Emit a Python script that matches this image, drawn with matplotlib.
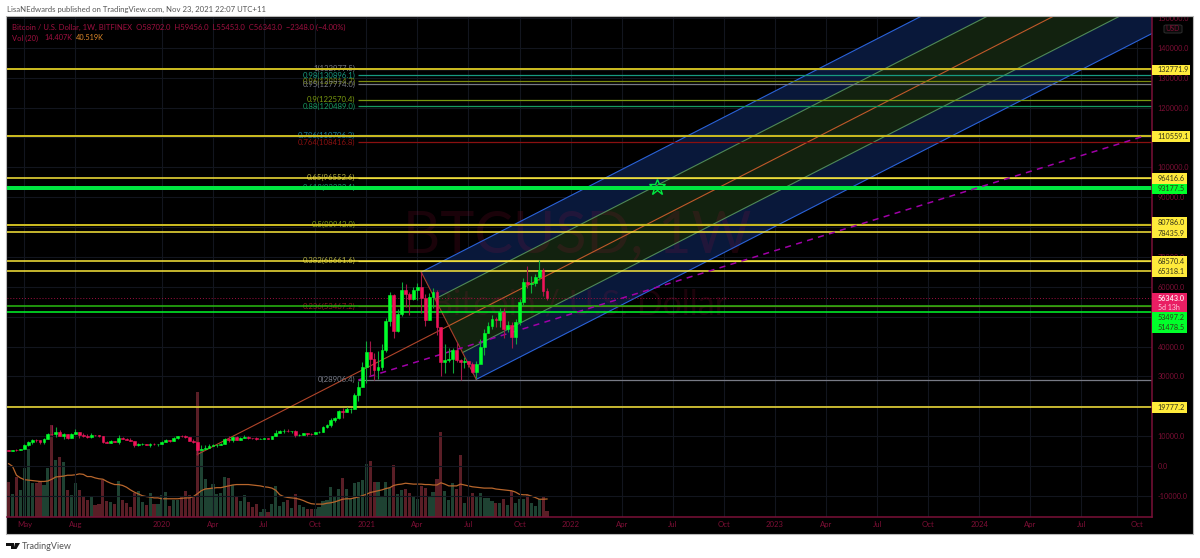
import matplotlib
matplotlib.use("Agg")
import matplotlib.pyplot as plt
import matplotlib.dates as mdates
from matplotlib.patches import Rectangle, FancyBboxPatch, Polygon
import numpy as np
import pandas as pd

W, H = 1200, 558
plt.rcParams['font.family'] = ['Lato', 'DejaVu Sans']

# ---------- data ----------
closes = [5070,5310,5280,5760,7000,8200,8750,8730,7950,8950,
          10850,10800,11400,10200,10750,9500,10800,11300,10350,10150,
          9600,10400,10300,10000,8100,7850,8300,8200,9500,9200,
          8800,8500,6900,7400,7500,7100,7500,7300,7350,8150,
          8700,8350,9350,10150,9900,9650,8530,8040,5200,5800,
          5900,6780,6900,7130,7530,8900,8720,9670,8720,9450,
          9670,9320,9300,9000,9070,9300,9200,9930,11100,11680,
          11850,11650,11700,10250,10320,10920,10770,10670,11370,11500,
          13030,13770,15480,15970,18400,18180,19150,19170,23860,26490,
          33000,38150,35800,32300,33100,38900,48600,57400,45200,51000,
          59000,57500,55800,58800,60000,56200,49000,56600,58200,46400,
          34700,35600,35800,39000,35600,34700,35300,34200,31500,34300,
          39900,44600,47000,49300,48800,51700,46000,47300,43200,48200,
          54900,61500,61000,61300,63200,65500,58702,56343]
opens = [5200] + closes[:-1]
highs = [5470,5350,5650,5800,7450,8350,8950,9090,8800,9400,
         11200,13800,13200,12100,11000,10700,11100,12300,11400,10950,
         10600,10950,10450,10300,10050,8500,8700,8450,10350,9800,
         9500,9250,8500,7850,7750,7450,7700,7700,7500,8250,
         9200,8800,9550,10200,10500,10350,9750,9200,8200,6950,
         6950,7200,7500,7300,7750,9500,9950,9900,10050,9600,
         10500,9950,9500,9750,9350,9500,9400,10200,12100,12050,
         12450,12400,11800,12050,10700,11200,10950,10950,11450,11700,
         13230,14100,15950,16450,18800,19400,19800,19400,24300,28400,
         34800,42000,41900,37800,38500,40900,49700,58300,57500,52500,
         61700,61000,58400,60000,61300,64900,57500,57900,59500,58900,
         46700,40800,39500,39400,41400,35700,36600,35000,34800,35000,
         42500,46000,48100,50500,49800,53000,52900,48500,48300,49200,
         56000,62900,67000,63700,64300,69000,66300,59456]
lows = [4950,5000,5150,5200,5700,6600,7450,8000,7450,7500,
        8900,10300,9700,9900,9100,9200,9300,10750,9450,9850,
        9350,9500,9900,9800,7700,7700,7750,7900,7300,8900,
        8700,8400,6500,6850,7150,7000,6500,7000,6850,7350,
        8000,8200,8300,9100,9650,9300,8400,7850,3850,5200,
        5700,5900,6700,6500,7000,7500,8200,8150,8600,8700,
        9300,9150,8900,8850,8900,8950,9050,9150,9900,10950,
        11100,11300,11100,9850,10200,10250,10150,10300,10550,11200,
        11400,12700,13200,14800,15800,16200,18000,17600,19000,21900,
        26500,27800,30300,28900,29200,32300,38000,47000,43000,44900,
        50300,53200,50400,55500,55500,51300,47000,48800,53000,43900,
        30000,31100,34800,31000,34900,28900,32700,33000,31000,29300,
        34400,37300,44600,46000,46500,46600,42800,44700,39600,40800,
        47100,53900,59600,58000,60200,62300,57000,55453]
volumes = [79,51,91,61,111,154,77,77,79,71,
           110,206,128,134,124,61,49,77,61,45,
           38,46,26,29,83,35,34,29,80,38,
           32,23,53,58,34,28,53,29,29,50,
           56,24,39,39,48,59,50,47,281,154,
           85,66,74,52,54,89,87,71,45,36,
           49,34,23,29,11,17,11,29,69,25,
           34,38,20,51,26,23,19,19,19,23,
           37,38,67,44,62,87,62,40,76,79,
           83,119,125,79,79,47,79,65,117,52,
           61,63,55,46,41,70,65,46,56,85,
           191,59,38,76,63,140,31,47,53,44,
           53,42,42,36,32,32,41,27,58,32,
           41,41,50,31,25,40,44,14.4]
vol_ma = [120,114,94,88,84,83,82,81,80,80,
          81,85,90,91,92,94,94,95,97,96,
          91,91,88,86,85,80,76,73,73,71,
          67,61,56,52,48,46,45,43,43,41,
          41,41,41,41,42,43,43,46,52,59,
          63,64,65,66,66,68,70,72,73,73,
          73,73,72,71,70,68,67,65,60,50,
          46,44,43,42,40,37,33,30,29,29,
          29,31,32,34,37,40,41,41,43,45,
          48,51,55,57,59,61,64,66,71,73,
          74,76,75,74,74,74,73,73,72,72,
          77,74,70,70,70,74,72,70,68,67,
          66,65,65,65,63,62,61,60,59,56,
          51,50,50,47,44,40,40,40.5]
first_week = '2019-04-08'

month_ticks = ['2019-05-06','2019-08-05','2020-01-06','2020-04-06','2020-07-06','2020-10-05',
               '2021-01-04','2021-04-05','2021-07-05','2021-10-04','2022-01-03','2022-04-04',
               '2022-07-04','2022-10-03','2023-01-02','2023-04-03','2023-07-03','2023-10-02',
               '2024-01-01','2024-04-01','2024-07-01','2024-10-07']
month_labels = ['May','Aug','2020','Apr','Jul','Oct','2021','Apr','Jul','Oct','2022','Apr',
                'Jul','Oct','2023','Apr','Jul','Oct','2024','Apr','Jul','Oct']
price_ticks = [150000,140000,130000,120000,110000,100000,90000,80000,70000,60000,
               50000,40000,30000,20000,10000,0,-10000]

fib_levels = [1,0.98,0.96,0.95,0.9,0.88,0.786,0.764,0.65,0.618,0.5,0.382,0.236,0]
fib_prices = [132977.5,130896.1,128814.7,127774.0,122570.4,120489.0,110706.3,108416.8,
              96552.6,93222.1,80942.0,68661.6,53467.2,28906.4]
fib_colors = ['#787b86','#179a80','#7a8a10','#787b86','#7a9a10','#179a60','#1a7fa0','#8a1010',
              '#b5b040','#179a70','#7a9a10','#b5b040','#8a1a1a','#787b86']
hline_prices = [132771.9,110559.1,96416.6,93177.5,80786.0,78435.9,68570.4,65318.1,53497.2,51478.5,19777.2]
hline_colors = ['#c8b820','#c8b820','#ffeb3b','#00e640','#c8b820','#ffeb3b','#ffeb3b','#ffeb3b','#28c010','#00ff2a','#ffeb3b']
hline_widths = [2,2,1.5,4,2,1.5,1.5,1.5,1.5,1.5,1.5]

fork_dates = ['2020-03-09','2021-04-12','2021-07-19']
fork_prices = [3850,64900,29000]
trend_dates = ['2020-12-21','2024-10-21']
trend_prices = [28800,110480]
star_date, star_price = '2022-06-06', 93400
last_price = 56343

# ---------- figure ----------
fig = plt.figure(figsize=(W/100, H/100), dpi=100, facecolor='white')

def fx(x): return x/W
def fy(y): return 1-y/H

def frect(x0, y0, x1, y1, **kw):
    r = Rectangle((fx(x0), fy(y1)), (x1-x0)/W, (y1-y0)/H, transform=fig.transFigure, **kw)
    fig.add_artist(r)
    return r

def ftext(x, y, s, **kw):
    kw.setdefault('va', 'center')
    kw.setdefault('zorder', 12)
    return fig.text(fx(x), fy(y), s, **kw)

L, R, T, B = 7, 1152, 17, 517
bg = frect(L-1, T-1, 1193, 534, facecolor='black', edgecolor='#b8b8b8', lw=0.8, zorder=-5)

ax = fig.add_axes([fx(L), fy(B), (R-L)/W, (B-T)/H])
ax.patch.set_visible(False)
axv = ax.twinx()
ax.set_zorder(3)
axv.set_zorder(2)
axv.patch.set_visible(False)

dates = pd.date_range(first_week, periods=len(closes), freq='W-MON')
xs = mdates.date2num(dates)
d0 = xs[0]
px_per_day = 3.93/7
xmin = d0 + (L-8.6)/px_per_day
xmax = d0 + (R-8.6)/px_per_day
ymax = (466-T)/0.002987
ymin = (466-B)/0.002987
ax.set_xlim(xmin, xmax)
ax.set_ylim(ymin, ymax)
axv.set_ylim(0, (B-T)*2.25)
axv.set_yticks([])

CR = '#7d0f35'
for s in ['top', 'left']:
    ax.spines[s].set_visible(False)
    axv.spines[s].set_visible(False)
for s in ['right', 'bottom']:
    ax.spines[s].set_color('#7a1038')
    ax.spines[s].set_linewidth(1.1)
    axv.spines[s].set_visible(False)

ax.yaxis.tick_right()
ax.set_yticks(price_ticks)
ax.set_yticklabels([f'{p:.1f}' for p in price_ticks])
ax.set_xticks(mdates.date2num(pd.to_datetime(month_ticks)))
ax.set_xticklabels(month_labels)
ax.tick_params(axis='both', length=0, labelcolor=CR, labelsize=5.6)
ax.tick_params(axis='y', labelsize=5.2, pad=4)
ax.tick_params(axis='x', pad=3)
ax.grid(True, color='#12151e', lw=0.8, zorder=0)
ax.set_axisbelow(True)

# volume
o = np.array(opens); c = np.array(closes); h = np.array(highs); l = np.array(lows)
up = c >= o
axv.bar(xs, volumes, width=5.6, color=np.where(up, '#1e4232', '#5a1e26'), zorder=2)
axv.plot(xs, vol_ma, color='#b8662c', lw=0.9, zorder=3)

# watermark
ax.text(d0+(577-8.6)/px_per_day, (466-236)/0.002987, 'BTCUSD, 1W', color='#b01040', alpha=0.15,
        fontsize=41.5, ha='center', va='center', zorder=1.2)
ax.text(d0+(579-8.6)/px_per_day, (466-304)/0.002987, 'Bitcoin / U.S. Dollar', color='#b01040', alpha=0.15,
        fontsize=24.5, ha='center', va='center', zorder=1.2)

# pitchfork
fd = mdates.date2num(pd.to_datetime(fork_dates))
A = np.array([fd[0], fork_prices[0]])
Bp = np.array([fd[1], fork_prices[1]])
Cp = np.array([fd[2], fork_prices[2]])
M = (Bp+Cp)/2
slope = (M[1]-A[1])/(M[0]-A[0])
def ext(P):
    return np.array([xmax+50, P[1]+slope*(xmax+50-P[0])])
iu = (Bp+M)/2
il = (Cp+M)/2
for P, Q, col in [(Bp, iu, '#09183a'), (iu, M, '#12220f'), (M, il, '#12220f'), (il, Cp, '#09183a')]:
    ax.add_patch(Polygon([P, ext(P), ext(Q), Q], closed=True, facecolor=col, edgecolor='none', zorder=1))
for P, col, lw in [(Bp, '#2a62d8', 0.8), (Cp, '#2a62d8', 0.8), (iu, '#4f8a58', 0.8), (il, '#4f8a58', 0.8), (M, '#c05a2a', 0.8)]:
    e = ext(P)
    ax.plot([P[0], e[0]], [P[1], e[1]], color=col, lw=lw, zorder=1.5)
ax.plot([A[0], M[0]], [A[1], M[1]], color='#b0452a', lw=0.8, zorder=1.5)
ax.plot([Bp[0], Cp[0]], [Bp[1], Cp[1]], color='#a8402a', lw=0.8, zorder=1.5)

# trend dashed
ax.plot(mdates.date2num(pd.to_datetime(trend_dates)), trend_prices, color='#a000a8', lw=1.1,
        ls=(0, (4, 3.5)), zorder=4)

# fib
fib_start = mdates.date2num(pd.Timestamp('2020-12-21'))
for lv, p, col in zip(fib_levels, fib_prices, fib_colors):
    ax.hlines(p, fib_start, xmax, color=col, lw=0.9, zorder=1.8)
    ax.annotate(f'{lv}({p:.1f})', (fib_start, p), xytext=(-2.2, 0), textcoords='offset points',
                ha='right', va='center', color=col, fontsize=5.6, zorder=1.9)

# horizontal lines
for p, col, w in zip(hline_prices, hline_colors, hline_widths):
    ax.axhline(p, color=col, lw=w*0.72, zorder=2)
ax.axhline(last_price, color='#a01040', lw=0.7, ls=(0, (1, 2)), zorder=2)

# candles
ax.vlines(xs[up], l[up], h[up], color='#10a83a', lw=0.8, zorder=5)
ax.vlines(xs[~up], l[~up], h[~up], color='#a01848', lw=0.8, zorder=5)
ax.bar(xs[up], (c-o)[up], bottom=o[up], width=5.0, color='#00ff2a', edgecolor='#00ff2a', lw=0.4, zorder=6)
ax.bar(xs[~up], (o-c)[~up], bottom=c[~up], width=5.0, color='#f0145a', edgecolor='#f0145a', lw=0.4, zorder=6)

# star
ax.plot([mdates.date2num(pd.Timestamp(star_date))], [star_price], marker='*', ms=12, mfc='none',
        mec='#00e640', mew=1.0, zorder=7)

# white top mask for clipped label
frect(0, 0, W, T-1, facecolor='white', edgecolor='none', zorder=8)
frect(L-1, T-1, 1193, T-1, facecolor='none', edgecolor='#b8b8b8', lw=0.8, zorder=9)

# header / legend
ftext(7, 9, 'LisaNEdwards published on TradingView.com, Nov 23, 2021 22:07 UTC+11', color='#555555', fontsize=5.55)
ftext(12, 27, 'Bitcoin / U.S. Dollar, 1W, BITFINEX  O58702.0  H59456.0  L55453.0  C56343.0  \u22122348.0 (\u22124.00%)',
      color='#a01040', fontsize=5.5)
ftext(12, 38, 'Vol (20)', color='#a01040', fontsize=5.4)
ftext(44, 38, '14.407K', color='#a01040', fontsize=5.3)
ftext(76, 38, '40.519K', color='#e08a2a', fontsize=5.3)

# USD button
fig.add_artist(FancyBboxPatch((fx(1164), fy(33)), 18/W, 8/H, boxstyle='round,pad=0,rounding_size=0.002',
                              transform=fig.transFigure, facecolor='#0a0a0a', edgecolor='#2a2a2a', lw=0.8, zorder=11))
ftext(1173, 28.5, 'USD', color='#7d0f35', fontsize=5.0, ha='center')

# axis price labels
Y = '#ffeb3b'; G = '#00ff2a'
boxes = [('132771.9', 65, 75, Y, 1190), ('110559.1', 131, 142, Y, 1190), ('96416.6', 173, 184, Y, 1187),
         ('93177.5', 184, 194, G, 1187), ('80786.0', 217, 228, Y, 1187), ('78435.9', 228, 238, Y, 1187),
         ('68570.4', 256, 267, Y, 1187), ('65318.1', 267, 277, Y, 1187), ('53497.2', 312, 322, G, 1187),
         ('51478.5', 322, 333, G, 1187), ('19777.2', 402, 413, Y, 1187)]
for s, y0, y1, col, xr in boxes:
    frect(R, y0, xr, y1, facecolor=col, edgecolor='none', zorder=10)
    ftext(1157.5, (y0+y1)/2, s, color='#33331a', fontsize=5.2)
frect(R, 293, 1187, 312, facecolor='#e91e63', edgecolor='none', zorder=10)
ftext(1157.5, 298.5, '56343.0', color='#ffe0ea', fontsize=5.2, fontweight='bold')
ftext(1157.5, 307.5, '5d 13h', color='#ffd0e0', fontsize=5.0)

# logo
for pts in ([(6, 543), (14, 543), (14, 549), (11, 549), (11, 546), (6, 546)],
            [(15, 543), (20, 543), (16.5, 549), (13.5, 549)]):
    fig.add_artist(Polygon([(fx(a), fy(b)) for a, b in pts], closed=True, transform=fig.transFigure,
                           facecolor='#111111', edgecolor='none', zorder=12))
ftext(22, 546.5, 'TradingView', color='#555555', fontsize=6.5)

fig.savefig('out.png', dpi=100, facecolor='white')
